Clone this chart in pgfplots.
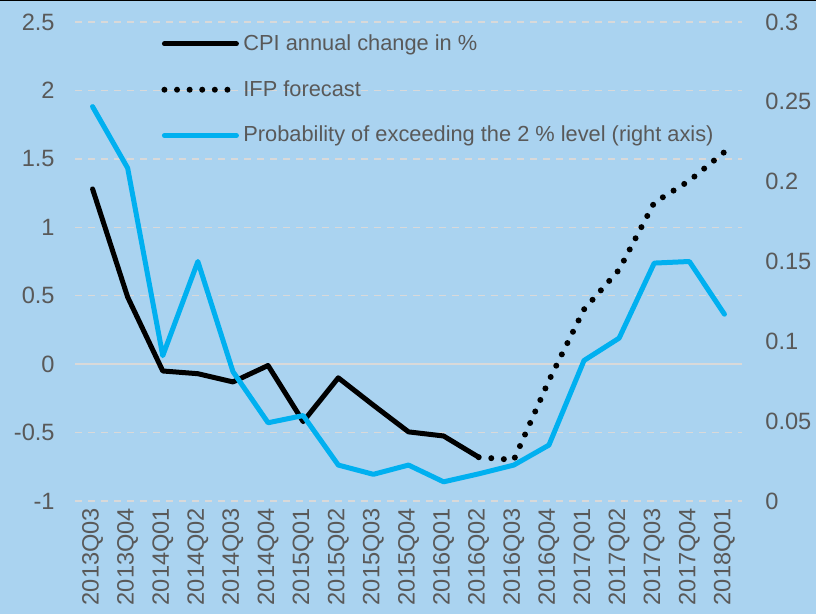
\documentclass[border=0pt]{standalone}
\usepackage{pgfplots}
\pgfplotsset{compat=1.18}
\usepackage{fontspec}
\setmainfont{Liberation Sans}
\definecolor{bgblue}{HTML}{AAD3F0}
\definecolor{lineblue}{HTML}{00B0F0}
\definecolor{txtgray}{HTML}{595959}
\definecolor{gridgray}{HTML}{D9D9D9}
\begin{document}
\begin{tikzpicture}
\useasboundingbox (0,0) rectangle (408pt,307pt);
\fill[bgblue] (0,0) rectangle (408pt,307pt);
\fill[black] (0,306.4pt) rectangle (408pt,307pt);
\pgfplotsset{
  common/.style={
    scale only axis, width=333.5pt, height=239.5pt,
    at={(37.5pt,56.5pt)}, anchor=south west,
    xmin=-0.5, xmax=18.5,
    axis line style={draw=none},
    major tick length=0pt, minor tick length=0pt,
    tick label style={font=\fontsize{11.8}{13}\selectfont, text=txtgray},
  }
}
\begin{axis}[common,
  ymin=-1, ymax=2.5,
  ytick={-1,-0.5,0.5,1,1.5,2,2.5},
  yticklabels={-1,-0.5,0.5,1,1.5,2,2.5},
  extra y ticks={0}, extra y tick labels={0},
  extra y tick style={grid style={solid, gridgray, line width=0.75pt}},
  yticklabel style={anchor=east, inner xsep=0pt, xshift=-10pt},
  ymajorgrids,
  grid style={gridgray, line width=0.75pt, dash pattern=on 3.5pt off 3pt},
  xtick={0,...,18},
  xticklabels={2013Q03,2013Q04,2014Q01,2014Q02,2014Q03,2014Q04,2015Q01,2015Q02,2015Q03,2015Q04,2016Q01,2016Q02,2016Q03,2016Q04,2017Q01,2017Q02,2017Q03,2017Q04,2018Q01},
  xticklabel style={rotate=90, anchor=east},
  legend cell align=left,
  legend image code/.code={\draw[#1] (0pt,0pt) -- (36pt,0pt);},
  legend style={at={(axis description cs:0.129,0.983)}, anchor=north west,
    draw=none, fill=none, inner sep=0pt, row sep=9.5pt,
    font=\fontsize{10.9}{12}\selectfont, text=txtgray},
]
\addplot[black, line width=2.5pt, line join=round, line cap=round] coordinates {
(0,1.28) (1,0.49) (2,-0.05) (3,-0.07) (4,-0.13) (5,-0.01) (6,-0.42) (7,-0.10)
(8,-0.30) (9,-0.495) (10,-0.525) (11,-0.68)};
\addlegendentry{CPI annual change in \%}
\addplot[black, line width=3pt, line cap=round, dash pattern=on 0pt off 6.3pt] coordinates {
(11,-0.68) (12,-0.70) (13,-0.12) (14,0.40) (15,0.69) (16,1.18) (17,1.34) (18,1.55)};
\addlegendentry{IFP forecast}
\addlegendimage{lineblue, line width=2.5pt, line cap=round}
\addlegendentry{Probability of exceeding the 2 \% level (right axis)}
\end{axis}
\begin{axis}[common,
  ymin=0, ymax=0.3,
  axis y line*=right, hide x axis,
  ytick={0,0.05,0.1,0.15,0.2,0.25,0.3},
  yticklabels={0,0.05,0.1,0.15,0.2,0.25,0.3},
  yticklabel style={anchor=west, inner xsep=0pt, xshift=11.5pt},
]
\addplot[lineblue, line width=2.5pt, line join=round, line cap=round] coordinates {
(0,0.247) (1,0.2085) (2,0.091) (3,0.150) (4,0.081) (5,0.049) (6,0.0535) (7,0.0225)
(8,0.0167) (9,0.0225) (10,0.012) (11,0.017) (12,0.0225) (13,0.035) (14,0.088)
(15,0.102) (16,0.149) (17,0.150) (18,0.117)};
\end{axis}
\end{tikzpicture}
\end{document}
